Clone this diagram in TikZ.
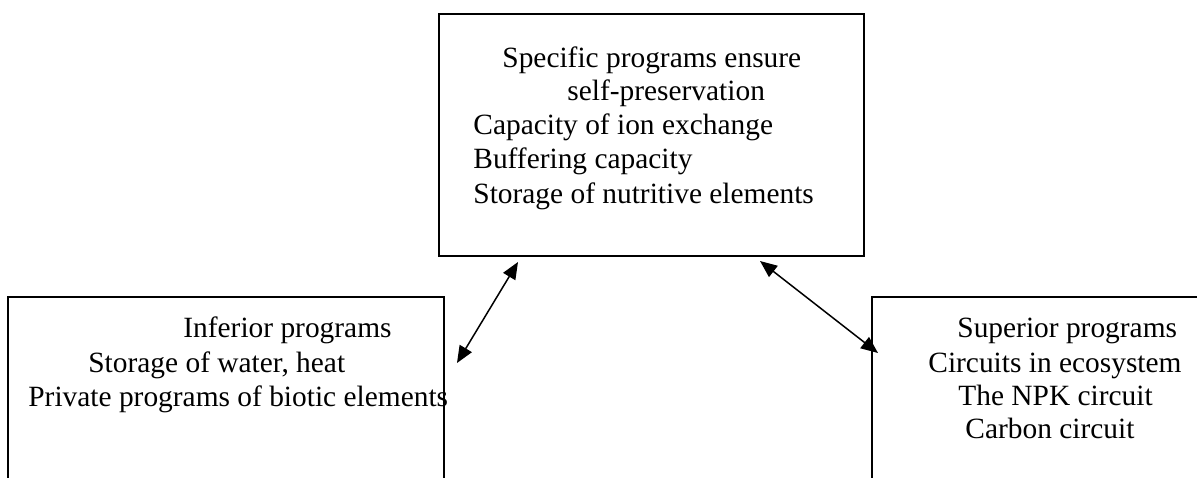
\documentclass[tikz,border=0pt]{standalone}
\usepackage{fontspec}
\setmainfont{Liberation Serif}
\usetikzlibrary{arrows.meta,calc}

\tikzset{
  prog/.style={draw,line width=1pt,anchor=north west,inner sep=0pt},
  line/.style={anchor=base west,inner sep=0pt,font=\fontsize{14.7}{17}\selectfont},
  link/.style={line width=0.75pt,{Triangle[length=8.5pt,width=7pt]}-{Triangle[length=8.5pt,width=7pt]}}
}

\begin{document}
\begin{tikzpicture}[x=0.5pt,y=-0.5pt]
\clip (0,0) rectangle (1197,477);
% boxes
\node[prog,minimum width=212.5pt,minimum height=121pt] (spec) at (438,13) {};
\node[prog,minimum width=218pt,minimum height=125pt] (infer) at (7,296) {};
\node[prog,minimum width=200pt,minimum height=125pt] (super) at (871,296) {};
% texts
\foreach \x/\y/\t [count=\i] in {502/67/{Specific programs ensure},
    567/100/{self-preservation},473/134/{Capacity of ion exchange},
    473/168/{Buffering capacity},473/203/{Storage of nutritive elements}}
  \node[line] (spec-\i) at (\x,\y) {\t};
\foreach \x/\y/\t [count=\i] in {183/337/{Inferior programs},
    88/372/{Storage of water, heat},28/406/{Private programs of biotic elements}}
  \node[line] (infer-\i) at (\x,\y) {\t};
\foreach \x/\y/\t [count=\i] in {957/337/{Superior programs},
    928/372/{Circuits in ecosystem},958/405/{The NPK circuit},965/438/{Carbon circuit}}
  \node[line] (super-\i) at (\x,\y) {\t};
% arrows
\coordinate (a1) at ($(spec.south west)+(80,5)$);
\coordinate (a2) at ($(infer.north east)+(12,67)$);
\coordinate (b1) at ($(spec.south west)+(322,4)$);
\coordinate (b2) at ($(super.north west)+(7,57)$);
\draw[link] (a2) -- (a1);
\draw[link] (b1) -- (b2);
\end{tikzpicture}
\end{document}
